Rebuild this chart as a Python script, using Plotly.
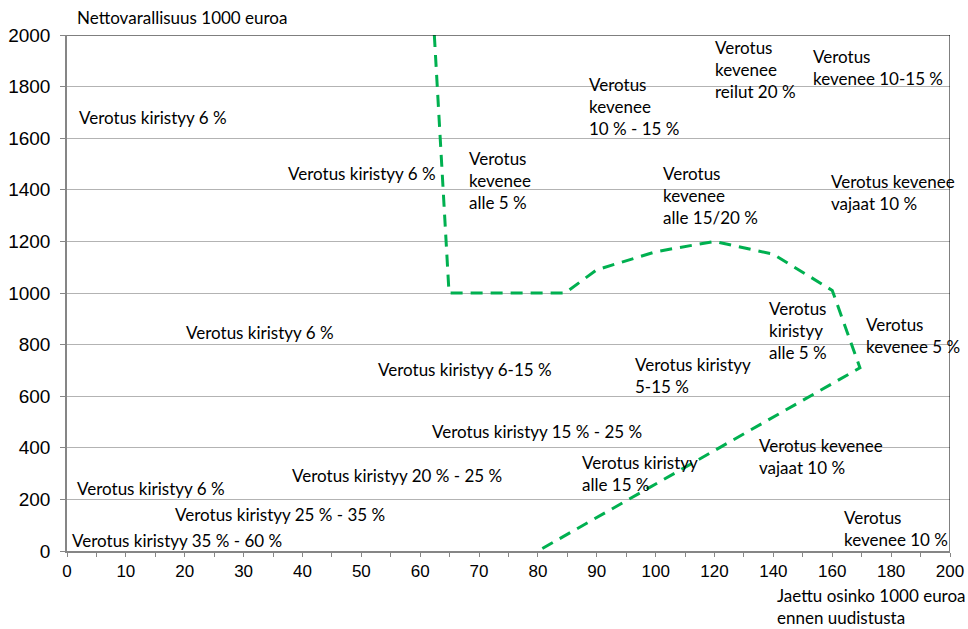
import plotly.graph_objects as go

# ---- data ----
x_tick_labels = [0, 10, 20, 30, 40, 50, 60, 70, 80, 90, 100, 120, 140, 160, 180, 200]
y_tick_values = [0, 200, 400, 600, 800, 1000, 1200, 1400, 1600, 1800, 2000]

boundary_dividend = [62.4, 64.9, 84.6, 90, 100, 120, 140, 160, 169.4, 80]
boundary_wealth = [2000, 1000, 1000, 1090, 1160, 1200, 1150, 1010, 710, 0]

region_texts = [
    "Verotus kiristyy 6 %",
    "Verotus kiristyy 6 %",
    "Verotus<br>kevenee<br>alle 5 %",
    "Verotus<br>kevenee<br>10 % - 15 %",
    "Verotus<br>kevenee<br>reilut 20 %",
    "Verotus<br>kevenee 10-15 %",
    "Verotus<br>kevenee<br>alle 15/20 %",
    "Verotus kevenee<br>vajaat 10 %",
    "Verotus kiristyy 6 %",
    "Verotus kiristyy 6-15 %",
    "Verotus kiristyy<br>5-15 %",
    "Verotus<br>kiristyy<br>alle 5 %",
    "Verotus<br>kevenee 5 %",
    "Verotus kiristyy 15 % - 25 %",
    "Verotus kiristyy 20 % - 25 %",
    "Verotus kiristyy<br>alle 15 %",
    "Verotus kevenee<br>vajaat 10 %",
    "Verotus kiristyy 6 %",
    "Verotus kiristyy 25 % - 35 %",
    "Verotus kiristyy 35 % - 60 %",
    "Verotus<br>kevenee 10 %",
]

y_title = "Nettovarallisuus 1000 euroa"
x_title = "Jaettu osinko 1000 euroa<br>ennen uudistusta"

# ---- layout of labels (category-axis position, wealth) ----
region_pos = [
    (0.17, 1682), (3.72, 1465), (6.79, 1438), (8.83, 1721), (10.97, 1868),
    (12.64, 1874), (10.09, 1376), (12.94, 1390), (1.99, 845), (5.25, 705),
    (9.61, 682), (11.89, 853), (13.54, 835), (6.17, 465), (3.79, 291),
    (8.71, 302), (11.72, 368), (0.14, 244), (1.80, 140), (0.05, 39),
    (13.16, 87),
]


def to_pos(v):
    # category axis: 0..100 in steps of 10, then 120..200 in steps of 20
    return v / 10 if v <= 100 else 10 + (v - 100) / 20


FONT = "Lato, Calibri, Carlito, sans-serif"
TXT = dict(family=FONT, size=17, color="#000000")

fig = go.Figure()
fig.add_trace(go.Scatter(
    x=[to_pos(v) for v in boundary_dividend],
    y=boundary_wealth,
    mode="lines",
    line=dict(color="#00b050", width=3, dash="12px,8px"),
    hoverinfo="skip",
    showlegend=False,
))

annotations = []
for t, (px, py) in zip(region_texts, region_pos):
    annotations.append(dict(
        x=px, y=py, xref="x", yref="y", text=t, showarrow=False,
        xanchor="left", yanchor="middle", align="left", font=TXT,
    ))
# axis titles (outside the plotting area -> paper coordinates)
annotations.append(dict(
    x=0.009, y=1.033, xref="paper", yref="paper", text=y_title,
    showarrow=False, xanchor="left", yanchor="middle", align="left", font=TXT,
))
annotations.append(dict(
    x=0.802, y=-0.107, xref="paper", yref="paper", text=x_title,
    showarrow=False, xanchor="left", yanchor="middle", align="left",
    font=dict(family=FONT, size=17, color="#000000"),
))

tickvals = [i * 0.5 for i in range(31)]
ticktext = [str(x_tick_labels[i // 2]) if i % 2 == 0 else "" for i in range(31)]

fig.update_layout(
    width=968, height=629, autosize=False,
    margin=dict(l=67, r=18, t=35, b=78, autoexpand=False),
    paper_bgcolor="white", plot_bgcolor="white",
    showlegend=False,
    annotations=annotations,
    xaxis=dict(
        range=[0, 15], tickmode="array", tickvals=tickvals, ticktext=ticktext,
        showgrid=False, zeroline=False, automargin=False,
        showline=True, linecolor="#868686", linewidth=1.5,
        ticks="outside", ticklen=4, tickcolor="#868686", tickwidth=1,
        tickfont=dict(family="Liberation Sans, Arial, sans-serif", size=17, color="#000000"),
        fixedrange=True,
    ),
    yaxis=dict(
        range=[0, 2000], tickmode="array", tickvals=y_tick_values,
        showgrid=True, gridcolor="#b3b3b3", gridwidth=1, zeroline=False,
        automargin=False,
        showline=True, linecolor="#868686", linewidth=1.5,
        ticks="outside", ticklen=5, tickcolor="#868686", tickwidth=1,
        ticklabelstandoff=6,
        tickfont=dict(family="Liberation Sans, Arial, sans-serif", size=19, color="#000000"),
        fixedrange=True,
    ),
    shapes=[
        dict(type="line", xref="x", yref="y", x0=0, x1=15, y0=2000, y1=2000,
             line=dict(color="#000000", width=1)),
        dict(type="line", xref="x", yref="y", x0=15, x1=15, y0=0, y1=2000,
             line=dict(color="#000000", width=1)),
    ],
)

fig.write_html(
    "out.html",
    config={"displayModeBar": False},
    post_script="document.body.style.margin='0';",
)
